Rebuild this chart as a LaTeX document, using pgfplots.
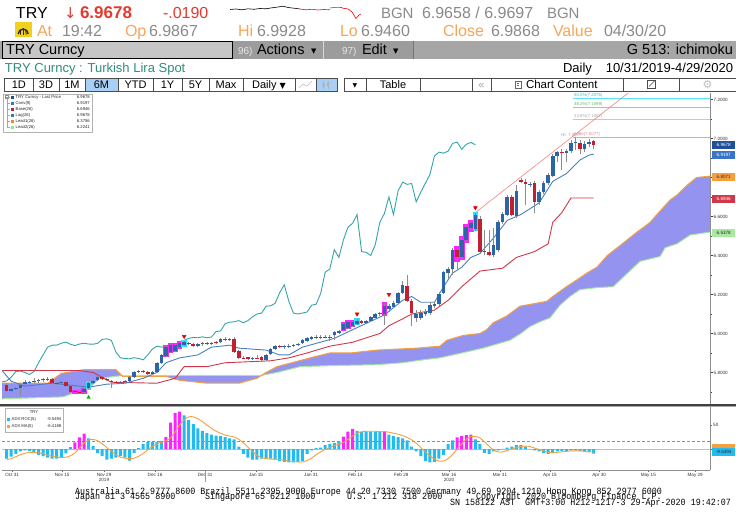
\documentclass[border=0pt]{standalone}
\usepackage{fontspec}
\setmainfont{Liberation Sans}
\newfontfamily\mono{Liberation Mono}[FakeStretch=0.88]
\newfontfamily\dejavu{DejaVu Sans}
\usepackage{pgfplots}
\usepackage{pgfplotstable}
\pgfplotsset{compat=1.18}
\newcommand\fs[1]{\fontsize{#1}{#1}\selectfont}

\definecolor{upc}{HTML}{2C64A8}
\definecolor{dnc}{HTML}{C21F30}
\definecolor{wickc}{HTML}{8C8C8C}
\definecolor{hlpink}{HTML}{FF22FF}
\definecolor{hlcyan}{HTML}{33DDFF}
\definecolor{convc}{HTML}{4A80C4}
\definecolor{basec}{HTML}{D0384A}
\definecolor{lagc}{HTML}{35A5AA}
\definecolor{lead1c}{HTML}{F5A040}
\definecolor{lead2c}{HTML}{A8E8A0}
\definecolor{cloudc}{HTML}{9494F0}
\definecolor{trendc}{HTML}{F39090}
\definecolor{fibcyan}{HTML}{55E5F5}
\definecolor{fibgreen}{HTML}{80E080}
\definecolor{fibgray}{HTML}{C8C8C8}
\definecolor{fibpink}{HTML}{FF9A9A}
\definecolor{roccyan}{HTML}{22BBF0}
\definecolor{rocpink}{HTML}{FF22FF}
\definecolor{maorange}{HTML}{F5A040}
\definecolor{hdrred}{HTML}{E43A30}
\definecolor{hdrgray}{HTML}{8A8A8A}
\definecolor{hdrorange}{HTML}{F5A658}
\definecolor{titleteal}{HTML}{2F8F7A}
\definecolor{lastc}{HTML}{1F4E9A}
\definecolor{convsq}{HTML}{3A74C8}
\definecolor{basesq}{HTML}{C21F3A}
\definecolor{lagsq}{HTML}{1C8A8F}
\definecolor{lead1sq}{HTML}{F28A1E}
\definecolor{lead2sq}{HTML}{8EE68E}
\definecolor{btnblue}{HTML}{A8CFF5}
\definecolor{bandgray}{HTML}{A6A6A6}
\definecolor{bandgray2}{HTML}{9C9C9C}
\definecolor{boxgray}{HTML}{C6C6C6}
\definecolor{iconyel}{HTML}{F0D020}

% ---------- candles (index = trading day) ----------
\pgfplotstableread{
i o h l c
1 5.705 5.722 5.698 5.716
2 5.718 5.728 5.712 5.722
3 5.720 5.748 5.680 5.736
4 5.742 5.760 5.735 5.750
5 5.750 5.758 5.740 5.753
6 5.751 5.770 5.745 5.755
7 5.754 5.768 5.748 5.761
8 5.759 5.770 5.752 5.766
9 5.764 5.775 5.758 5.768
11 5.745 5.752 5.735 5.748
12 5.748 5.756 5.740 5.752
17 5.699 5.718 5.694 5.713
18 5.722 5.752 5.715 5.746
19 5.745 5.762 5.740 5.756
20 5.760 5.782 5.755 5.776
25 5.747 5.756 5.742 5.752
26 5.752 5.760 5.746 5.757
27 5.756 5.780 5.750 5.776
28 5.776 5.810 5.770 5.805
29 5.803 5.815 5.796 5.807
32 5.790 5.810 5.785 5.805
33 5.802 5.855 5.798 5.850
34 5.850 5.895 5.845 5.890
35 5.886 5.935 5.880 5.930
36 5.905 5.945 5.900 5.940
37 5.912 5.945 5.905 5.940
38 5.930 5.955 5.925 5.950
39 5.940 5.962 5.935 5.956
42 5.936 5.952 5.930 5.946
43 5.945 5.955 5.938 5.950
47 5.955 5.975 5.950 5.970
48 5.968 5.980 5.962 5.973
54 5.871 5.880 5.862 5.876
57 5.865 5.895 5.860 5.890
58 5.893 5.925 5.888 5.920
59 5.920 5.940 5.915 5.935
61 5.930 5.940 5.922 5.934
62 5.934 5.945 5.925 5.938
63 5.939 5.948 5.930 5.943
64 5.943 5.952 5.935 5.947
65 5.949 5.970 5.944 5.965
66 5.964 5.980 5.958 5.975
67 5.970 5.985 5.965 5.980
69 5.979 5.990 5.972 5.983
71 5.978 5.990 5.960 5.982
72 5.990 6.015 5.965 6.010
73 6.005 6.020 5.995 6.013
74 6.020 6.055 6.015 6.050
75 6.030 6.062 6.025 6.058
76 6.040 6.065 6.035 6.060
77 6.050 6.072 6.045 6.066
79 6.055 6.070 6.050 6.066
80 6.066 6.090 6.060 6.085
81 6.082 6.105 6.078 6.100
82 6.100 6.110 6.090 6.104
83 6.100 6.150 6.045 6.140
84 6.125 6.150 6.110 6.142
85 6.135 6.165 6.130 6.155
86 6.155 6.215 6.150 6.210
87 6.210 6.270 6.205 6.250
90 6.080 6.120 6.060 6.100
91 6.082 6.120 6.070 6.105
92 6.100 6.125 6.090 6.110
93 6.105 6.160 6.095 6.145
94 6.140 6.160 6.130 6.150
95 6.150 6.215 6.140 6.205
96 6.210 6.320 6.200 6.315
97 6.310 6.340 6.280 6.330
98 6.330 6.440 6.300 6.430
100 6.390 6.490 6.380 6.480
101 6.480 6.550 6.470 6.545
102 6.540 6.570 6.530 6.565
103 6.535 6.620 6.525 6.610
107 6.400 6.540 6.390 6.455
108 6.430 6.580 6.420 6.570
109 6.570 6.625 6.560 6.615
110 6.610 6.710 6.600 6.700
112 6.600 6.760 6.590 6.730
115 6.765 6.775 6.750 6.769
117 6.675 6.735 6.660 6.725
118 6.725 6.780 6.715 6.770
119 6.770 6.825 6.760 6.815
120 6.810 6.920 6.800 6.910
121 6.910 6.935 6.880 6.930
123 6.925 6.945 6.880 6.935
124 6.935 6.990 6.925 6.975
125 6.975 7.008 6.940 6.981
127 6.945 6.985 6.930 6.970
128 6.970 6.995 6.955 6.980
}\upc

\pgfplotstableread{
i o h l c
0 5.735 5.745 5.700 5.705
10 5.768 5.772 5.740 5.745
13 5.750 5.755 5.725 5.730
14 5.732 5.738 5.695 5.702
15 5.706 5.715 5.695 5.701
16 5.701 5.710 5.692 5.697
21 5.777 5.782 5.760 5.765
22 5.765 5.770 5.755 5.760
23 5.757 5.762 5.722 5.754
24 5.752 5.758 5.740 5.748
30 5.806 5.812 5.795 5.800
31 5.800 5.806 5.785 5.790
40 5.952 5.958 5.940 5.945
41 5.945 5.950 5.930 5.938
44 5.950 5.958 5.940 5.946
45 5.950 5.956 5.940 5.945
46 5.956 5.962 5.945 5.950
49 5.972 5.978 5.960 5.965
50 5.972 5.980 5.900 5.905
51 5.910 5.915 5.870 5.875
52 5.876 5.885 5.868 5.872
53 5.877 5.882 5.865 5.870
55 5.876 5.890 5.868 5.872
56 5.880 5.886 5.855 5.865
60 5.936 5.942 5.925 5.930
68 5.982 5.990 5.970 5.978
70 5.983 5.992 5.975 5.978
78 6.062 6.068 6.050 6.055
88 6.245 6.300 6.160 6.165
89 6.165 6.175 6.040 6.105
99 6.430 6.440 6.330 6.390
104 6.585 6.600 6.410 6.420
105 6.422 6.530 6.400 6.416
106 6.416 6.530 6.395 6.400
111 6.700 6.710 6.600 6.610
113 6.786 6.795 6.770 6.776
114 6.775 6.790 6.660 6.765
116 6.770 6.780 6.620 6.675
122 6.932 6.945 6.840 6.925
126 6.978 6.990 6.920 6.945
129 6.9867 6.9928 6.9460 6.9678
}\dnc

\pgfplotstableread{
i lo hi
15 5.690 5.712
16 5.688 5.708
17 5.690 5.722
35 5.880 5.940
36 5.898 5.950
37 5.905 5.950
38 5.922 5.960
74 6.012 6.058
75 6.022 6.068
76 6.032 6.070
83 6.090 6.160
99 6.365 6.450
100 6.375 6.500
101 6.465 6.560
102 6.520 6.580
}\hlp

\pgfplotstableread{
i lo hi
18 5.712 5.758
39 5.930 5.968
77 6.042 6.078
103 6.525 6.625
}\hlc

% ---------- ichimoku lines ----------
\pgfplotstableread{
i v
-1.03 5.81
1 5.755
4 5.73
10 5.745
14 5.735
18 5.725
22 5.74
26 5.745
30 5.77
33 5.80
35 5.85
38 5.875
42 5.89
45 5.93
49 5.94
51 5.925
57 5.915
60 5.89
62 5.89
65 5.93
72 5.975
77 6.03
83 6.095
87 6.17
89 6.19
91 6.16
94 6.16
96 6.24
98 6.31
100 6.34
102 6.39
104 6.41
107 6.49
110 6.58
113 6.61
117 6.67
120 6.78
123 6.82
126 6.89
128 6.915
129 6.9197
}\conv

\pgfplotstableread{
i v
-1.03 5.81
16 5.81
19 5.80
23 5.75
33 5.745
37 5.77
39 5.83
44 5.83
48 5.85
58 5.86
62 5.875
66 5.90
71 5.935
76 5.955
82 6.0
84 6.04
87 6.075
89 6.10
94 6.12
97 6.17
100 6.24
104 6.32
109 6.335
112 6.39
116 6.42
119 6.46
120 6.57
122 6.62
124 6.695
129 6.6946
}\base

\pgfplotstableread{
i v
-1 5.752
0 5.757
1 5.776
2 5.805
3 5.807
4 5.800
5 5.790
6 5.805
7 5.850
8 5.890
9 5.930
10 5.940
11 5.940
12 5.950
13 5.956
14 5.945
15 5.938
16 5.946
17 5.950
18 5.946
19 5.945
20 5.950
21 5.970
22 5.973
23 5.965
24 5.905
25 5.875
26 5.872
27 5.870
28 5.876
29 5.872
30 5.865
31 5.890
32 5.920
33 5.935
34 5.930
35 5.934
36 5.938
37 5.943
38 5.947
39 5.965
40 5.975
41 5.980
42 5.978
43 5.983
44 5.978
45 5.982
46 6.010
47 6.013
48 6.050
49 6.058
50 6.060
51 6.066
52 6.055
53 6.066
54 6.085
55 6.100
56 6.104
57 6.140
58 6.142
59 6.155
60 6.210
61 6.250
62 6.165
63 6.105
64 6.100
65 6.105
66 6.110
67 6.145
68 6.150
69 6.205
70 6.315
71 6.330
72 6.430
73 6.390
74 6.480
75 6.545
76 6.565
77 6.610
78 6.420
79 6.416
80 6.400
81 6.455
82 6.570
83 6.615
84 6.700
85 6.610
86 6.730
87 6.776
88 6.765
89 6.769
90 6.675
91 6.725
92 6.770
93 6.815
94 6.910
95 6.930
96 6.925
97 6.935
98 6.975
99 6.981
100 6.945
101 6.970
102 6.980
103 6.9678
}\lag

\pgfplotstableread{
i v
-1.03 5.745
9 5.745
12 5.795
17 5.815
24 5.815
25.5 5.78
35 5.78
38 5.76
44 5.745
51 5.745
55 5.77
57 5.80
59.4 5.83
66.7 5.875
71 5.90
75.5 5.90
81.4 5.915
90.2 5.925
95.2 5.935
96.7 5.965
100.3 5.99
104 6.0
105.5 6.02
106.9 6.055
109.9 6.09
112.8 6.14
118.7 6.165
120 6.19
123 6.24
125.3 6.275
127.5 6.31
129.7 6.34
132 6.40
135 6.455
138.5 6.52
141.4 6.57
142.5 6.60
145.8 6.685
147.3 6.71
149.5 6.76
151.6 6.80
154.56 6.807
}\leadone

\pgfplotstableread{
i v
-1.03 5.665
12.4 5.675
18.3 5.725
20.5 5.77
24.5 5.782
35 5.785
56 5.785
59.4 5.80
64.5 5.83
71 5.835
81.4 5.84
87 5.85
91.5 5.865
95.2 5.875
100 5.90
104.7 5.925
110.6 5.965
113 6.0
115 6.035
117.2 6.06
119.4 6.08
121.6 6.145
123.8 6.19
126 6.225
129.7 6.235
133.3 6.24
136 6.30
139.2 6.37
143.6 6.395
144.7 6.44
147.3 6.46
150.2 6.505
154.56 6.52
}\leadtwo

% cloud outline: Lead1 forward, Lead2 backward
\pgfplotstableread{
i v
-1.03 5.745
9 5.745
12 5.795
17 5.815
24 5.815
25.5 5.78
35 5.78
38 5.76
44 5.745
51 5.745
55 5.77
57 5.80
59.4 5.83
66.7 5.875
71 5.90
75.5 5.90
81.4 5.915
90.2 5.925
95.2 5.935
96.7 5.965
100.3 5.99
104 6.0
105.5 6.02
106.9 6.055
109.9 6.09
112.8 6.14
118.7 6.165
120 6.19
123 6.24
125.3 6.275
127.5 6.31
129.7 6.34
132 6.40
135 6.455
138.5 6.52
141.4 6.57
142.5 6.60
145.8 6.685
147.3 6.71
149.5 6.76
151.6 6.80
154.56 6.807
154.56 6.52
150.2 6.505
147.3 6.46
144.7 6.44
143.6 6.395
139.2 6.37
136 6.30
133.3 6.24
129.7 6.235
126 6.225
123.8 6.19
121.6 6.145
119.4 6.08
117.2 6.06
115 6.035
113 6.0
110.6 5.965
104.7 5.925
100 5.90
95.2 5.875
91.5 5.865
87 5.85
81.4 5.84
71 5.835
64.5 5.83
59.4 5.80
56 5.785
35 5.785
24.5 5.782
20.5 5.77
18.3 5.725
12.4 5.675
-1.03 5.665
}\cloud

% ---------- ADX ROC(5) and MA(5) ----------
\pgfplotstableread{
i v
0 -20
1 -16
2 -10
3 -5
4 -3
5 -4
6 -8
7 -12
8 -15
9 -18
10 -20
11 -20
12 -17
13 -9
14 4
18 22
19 6
20 -8
21 -15
22 -22
23 -20
24 -18
25 -15
26 -18
27 -24
28 -8
29 2
30 10
31 15
32 15
33 15
34 17
39 70
40 60
41 52
42 43
43 38
44 33
45 30
46 28
47 27
48 25
49 22
50 20
51 5
52 -10
53 -18
54 -22
55 -22
56 -20
57 -20
58 -20
59 -22
60 -25
61 -27
62 -28
63 -28
64 -27
65 -25
66 -10
67 -3
68 2
69 3
70 8
71 10
72 12
73 16
77 38
78 35
79 37
80 36
81 36
82 37
84 30
85 27
86 25
87 22
88 18
89 5
90 -5
91 -15
92 -25
93 -28
94 -27
95 -20
96 -12
97 10
98 18
103 20
104 10
105 -8
106 -10
107 -5
108 -3
109 0.5
110 3
111 5
112 8
113 8
114 5
115 0.5
116 -3
117 -5
118 -8
119 -10
120 -8
121 -5
122 -4
123 -4
124 -3
125 -3
126 -4
127 -5
128 -6
129 -9.5494
}\roc

\pgfplotstableread{
i v
15 14
16 24
17 32
35 25
36 55
37 75
38 78
74 26
75 36
76 42
83 37
99 24
100 27
101 29
102 30
}\rocp

\pgfplotstableread{
i v
0 -22
1 -20
2 -16
3 -12
4 -9
5 -7
6 -7
7 -8
8 -10
9 -13
10 -15
11 -17
12 -18
13 -17
14 -14
15 -8
16 2
17 12
18 19
19 20
20 17
21 11
22 3
23 -5
24 -12
25 -17
26 -19
27 -20
28 -19
29 -15
30 -9
31 -2
32 5
33 11
34 14
35 17
36 23
37 35
38 50
39 61
40 67
41 67
42 63
43 57
44 50
45 43
46 37
47 33
48 29
49 27
50 25
51 20
52 13
53 4
54 -5
55 -13
56 -18
57 -20
58 -21
59 -21
60 -22
61 -23
62 -25
63 -26
64 -27
65 -27
66 -24
67 -19
68 -12
69 -6
70 -1
71 3
72 7
73 10
74 14
75 20
76 27
77 33
78 36
79 37
80 37
81 37
82 36
83 36
84 35
85 33
86 31
87 28
88 24
89 19
90 12
91 3
92 -6
93 -14
94 -21
95 -25
96 -25
97 -20
98 -11
99 0
100 11
101 20
102 26
103 26
104 23
105 15
106 6
107 -2
108 -6
109 -6
110 -3
111 0
112 3
113 5
114 6
115 5
116 2
117 -1
118 -4
119 -7
120 -8
121 -7
122 -6
123 -5
124 -4
125 -4
126 -4
127 -5
128 -6
129 -6.4188
}\ma

\begin{document}
\begin{tikzpicture}[x=1pt,y=1pt,
  t/.style={anchor=base west,inner sep=0pt,outer sep=0pt},
  te/.style={anchor=base east,inner sep=0pt,outer sep=0pt},
  tc/.style={anchor=base,inner sep=0pt,outer sep=0pt}]
\path[use as bounding box] (0,0) rectangle (736,-530);
\fill[white] (0,0) rectangle (736,-530);

% ---------- header row 1 ----------
\node[t] at (16,-18.5) {\fs{16}TRY};
\node[t,text=hdrred] at (64,-18.5) {\fs{15}\dejavu ↓};
\node[t,text=hdrred] at (80,-18.5) {\fs{17}\bfseries 6.9678};
\node[t,text=hdrred] at (163,-18.5) {\fs{16}-.0190};
\draw[black,line width=0.6pt] (230,-9.5) -- (236,-9) -- (242,-9.8) -- (248,-8.8) -- (254,-9.3) -- (260,-8.5) -- (266,-8.8) -- (272,-7.8) -- (278,-7) -- (283,-6.2) -- (288,-7.5) -- (294,-8.2) -- (300,-9);
\draw[red,line width=0.6pt] (300,-9) -- (306,-9.8) -- (312,-9.3) -- (318,-10) -- (324,-9.5) -- (330,-9.8);
\draw[green!60!black,line width=0.6pt] (330,-8) -- (336,-7.3) -- (342,-7.5);
\draw[red,line width=0.6pt] (342,-8) -- (348,-9) -- (352,-12) -- (356,-18.5) -- (359,-15) -- (361,-14);
\node[t,text=hdrgray] at (381,-18.5) {\fs{15}BGN};
\node[t,text=hdrgray] at (422,-18.5) {\fs{16}6.9658 / 6.9697};
\node[t,text=hdrgray] at (547,-18.5) {\fs{15}BGN};

% ---------- header row 2 ----------
\fill[iconyel] (15,-21.8) rectangle (31.5,-37);
\draw[black!85,line width=1.3pt] (18.2,-34) arc (180:0:5);
\draw[black!85,line width=1pt] (23.2,-34.5) -- (23.2,-27.5);
\draw[black!85,line width=0.9pt] (20.3,-34.5) -- (20.6,-30) (26.1,-34.5) -- (25.8,-30);
\node[t,text=hdrorange] at (37,-36.3) {\fs{16}At};
\node[t,text=hdrgray] at (62,-36.3) {\fs{16}19:42};
\node[t,text=hdrorange] at (125,-36.3) {\fs{16}Op};
\node[t,text=hdrgray] at (149,-36.3) {\fs{16}6.9867};
\node[t,text=hdrorange] at (238,-36.3) {\fs{16}Hi};
\node[t,text=hdrgray] at (257,-36.3) {\fs{16}6.9928};
\node[t,text=hdrorange] at (340,-36.3) {\fs{16}Lo};
\node[t,text=hdrgray] at (361,-36.3) {\fs{16}6.9460};
\node[t,text=hdrorange] at (443,-36.3) {\fs{16}Close};
\node[t,text=hdrgray] at (491,-36.3) {\fs{16}6.9868};
\node[t,text=hdrorange] at (553,-36.3) {\fs{16}Value};
\node[t,text=hdrgray] at (604,-36.3) {\fs{16}04/30/20};

% ---------- header row 3 ----------
\fill[bandgray] (0,-41) rectangle (736,-59);
\fill[bandgray2] (233,-41) rectangle (413,-59);
\draw[black!15,line width=0.8pt] (323,-41) -- (323,-59);
\draw[black!55,line width=1.5pt] (413.5,-41) -- (413.5,-59);
\filldraw[fill=boxgray,draw=black,line width=1pt] (2.5,-41.5) rectangle (232.5,-58.5);
\node[t] at (6,-54.5) {\fs{14.5}TRY Curncy};
\node[t,text=black!10] at (238,-54.5) {\fs{10}96)};
\node[t] at (257,-54.5) {\fs{14.5}Actions};
\node[t] at (311,-53.5) {\fs{7}\dejavu ▼};
\node[t,text=black!10] at (342,-54.5) {\fs{10}97)};
\node[t] at (362,-54.5) {\fs{14.5}Edit};
\node[t] at (393,-53.5) {\fs{7}\dejavu ▼};
\node[te] at (733,-54.5) {\fs{14.5}G 513: ichimoku};

% ---------- header row 4 ----------
\node[t,text=titleteal] at (5,-72) {\fs{13}TRY Curncy : Turkish Lira Spot};
\node[t] at (563,-72) {\fs{13}Daily};
\node[te] at (733,-72) {\fs{13}10/31/2019-4/29/2020};

% ---------- toolbar ----------
\foreach \a/\b/\lab in {4.7/33/1D,33/59/3D,59/85/1M,118/153/YTD,153/182/1Y,182/209/5Y,209/243/Max,366/420/Table}{
  \draw[black!70,line width=0.6pt,fill=white] (\a,-78) rectangle (\b,-91);
  \node[tc] at ({(\a+\b)/2},-88.3) {\fs{11}\lab};
}
\draw[black!70,line width=0.6pt,fill=btnblue] (85,-78) rectangle (118,-91);
\node[tc] at (101.5,-88.3) {\fs{11}6M};
\draw[black!70,line width=0.6pt,fill=white] (243,-78) rectangle (295,-91);
\node[tc] at (269,-88.3) {\fs{11}Daily {\dejavu\fs{8}▼}};
\draw[black!70,line width=0.6pt,fill=white] (295,-78) rectangle (316,-91);
\draw[black!25,line width=0.6pt] (299,-88) -- (303,-84) -- (307,-86) -- (312,-81);
\draw[black!70,line width=0.6pt,fill=btnblue] (316,-78) rectangle (337,-91);
\draw[black!30,line width=0.5pt] (323.5,-80.5) -- (323.5,-89) (328,-81) -- (328,-88.5);
\fill[black!30] (322.5,-83) rectangle (324.5,-87) (327,-82.5) rectangle (329,-86);
\draw[black!70,line width=0.6pt,fill=white] (344,-78) rectangle (366,-91);
\node[tc] at (355,-87) {\fs{6}\dejavu ▼};
\draw[black!70,line width=0.6pt,fill=white] (420,-78) rectangle (472,-91);
\draw[black!70,line width=0.6pt,fill=white] (472,-78) rectangle (491,-91);
\node[tc,text=black!35] at (481.5,-88.3) {\fs{11}«};
\draw[black!70,line width=0.6pt,fill=white] (491,-78) rectangle (623,-91);
\draw[black!60,line width=0.5pt] (515,-81) rectangle (521,-88.5);
\draw[black!60,line width=0.5pt] (517,-83) -- (519,-83) (517,-85) -- (519,-85);
\node[t] at (526,-88.3) {\fs{11.5}Chart Content};
\draw[black!70,line width=0.6pt,fill=white] (623,-78) rectangle (679,-91);
\draw[black!70,line width=0.6pt] (647,-80.5) rectangle (655,-88.5);
\draw[black!70,line width=0.6pt] (649,-86.5) -- (655,-80.5);
\draw[black!70,line width=0.6pt,fill=white] (679,-78) rectangle (736,-91);
\node[tc,text=black!25] at (707.5,-88.6) {\fs{11}\dejavu ⚙};

% ---------- main price panel ----------
\begin{axis}[at={(2pt,-405pt)}, anchor=south west,
  width=708pt, height=312pt, scale only axis,
  xmin=-1.03, xmax=154.56, ymin=5.6333, ymax=7.2333,
  hide x axis, axis y line*=right,
  axis line style={draw=black!45, line width=0.6pt},
  ytick={5.8,6,6.2,6.4,6.6,6.8,7,7.2},
  yticklabels={5.8000,6.0000,6.2000,6.4000,6.6000,{},7.0000,7.2000},
  minor ytick={5.7,5.9,6.1,6.3,6.5,6.7,6.9,7.1},
  tick align=outside, major tick length=2.5pt, minor tick length=1.8pt,
  tick style={draw=black!75, line width=0.7pt},
  yticklabel style={font=\fs{4.6}, text=black!80, inner sep=1pt},
]
\addplot[fill=cloudc, draw=none, forget plot] table[x=i,y=v] {\cloud};
\addplot[lead2c, line width=1pt, forget plot] table[x=i,y=v] {\leadtwo};
\addplot[lead1c, line width=1pt, forget plot] table[x=i,y=v] {\leadone};
% fibonacci levels and trend line
\addplot[fibcyan, line width=0.8pt, forget plot] coordinates {(124.5,7.2076) (154.56,7.2076)};
\addplot[fibgreen, line width=0.8pt, forget plot] coordinates {(124.5,7.1599) (154.56,7.1599)};
\addplot[fibgray, line width=0.6pt, forget plot] coordinates {(124.5,7.1007) (154.56,7.1007)};
\addplot[fibpink, line width=0.8pt, forget plot] coordinates {(124.5,7.0077) (154.56,7.0077)};
\addplot[trendc, line width=0.7pt, forget plot] coordinates {(103,6.62) (137.5,7.25)};
% ichimoku lines
\addplot[lagc, line width=0.9pt, forget plot] table[x=i,y=v] {\lag};
\addplot[basec, line width=0.9pt, forget plot] table[x=i,y=v] {\base};
\addplot[convc, line width=0.9pt, forget plot] table[x=i,y=v] {\conv};
% highlights
\addplot[draw=none, mark=none, forget plot, error bars/.cd, y dir=plus, y explicit, error mark=none,
  error bar style={draw=hlpink, line width=5.6pt}]
  table[x=i, y=lo, y error plus expr={\thisrow{hi}-\thisrow{lo}}] {\hlp};
\addplot[draw=none, mark=none, forget plot, error bars/.cd, y dir=plus, y explicit, error mark=none,
  error bar style={draw=hlcyan, line width=5.6pt}]
  table[x=i, y=lo, y error plus expr={\thisrow{hi}-\thisrow{lo}}] {\hlc};
% wicks
\addplot[draw=none, mark=none, forget plot, error bars/.cd, y dir=plus, y explicit, error mark=none,
  error bar style={draw=wickc, line width=0.7pt}]
  table[x=i, y=l, y error plus expr={\thisrow{h}-\thisrow{l}}] {\upc};
\addplot[draw=none, mark=none, forget plot, error bars/.cd, y dir=plus, y explicit, error mark=none,
  error bar style={draw=wickc, line width=0.7pt}]
  table[x=i, y=l, y error plus expr={\thisrow{h}-\thisrow{l}}] {\dnc};
% bodies
\addplot[draw=none, mark=none, forget plot, error bars/.cd, y dir=plus, y explicit, error mark=none,
  error bar style={draw=upc, line width=3.6pt}]
  table[x=i, y=o, y error plus expr={\thisrow{c}-\thisrow{o}}] {\upc};
\addplot[draw=none, mark=none, forget plot, error bars/.cd, y dir=plus, y explicit, error mark=none,
  error bar style={draw=dnc, line width=3.6pt}]
  table[x=i, y=c, y error plus expr={\thisrow{o}-\thisrow{c}}] {\dnc};
% signal markers
\addplot[only marks, mark=triangle*, mark size=2.2pt, color=red!90!black, mark options={rotate=180}, forget plot]
  coordinates {(39,5.985) (77,6.10) (84,6.20) (103,6.645)};
\addplot[only marks, mark=triangle*, mark size=2pt, color=green!70!black, forget plot]
  coordinates {(18,5.672)};
% labels of the fibonacci levels
\node[anchor=south west, inner sep=0.3pt, text=fibcyan!80!black, font=\fs{4.3}] at (axis cs:124.6,7.2076) {50.0\%(7.2076)};
\node[anchor=south west, inner sep=0.3pt, text=fibgreen!80!black, font=\fs{4.3}] at (axis cs:124.6,7.1599) {38.2\%(7.1599)};
\node[anchor=south west, inner sep=0.3pt, text=black!35, font=\fs{4.3}] at (axis cs:124.6,7.1007) {23.6\%(7.1007)};
\node[anchor=south west, inner sep=0.3pt, text=convc!70, font=\fs{4.3}] at (axis cs:121.8,7.0077) {Hi: 7.0077};
\node[anchor=south west, inner sep=0.3pt, text=fibpink!90!black, font=\fs{4.3}] at (axis cs:124.6,7.0077) {0.0\%(7.0077)};
\end{axis}

% ---------- indicator panel ----------
\begin{axis}[at={(2pt,-470pt)}, anchor=south west,
  width=708pt, height=64pt, scale only axis,
  xmin=-1.03, xmax=154.56, ymin=-43.75, ymax=89.6,
  axis x line*=bottom, axis y line*=right,
  axis line style={draw=black!45, line width=0.6pt},
  xtick={1.2,12.2,21.4,32.6,43.6,54.8,66.9,76.6,86.7,97.2,108.4,119.4,130.2,141,151.3},
  xticklabels={Oct 31,Nov 15,Nov 29,Dec 16,Dec 31,Jan 15,Jan 31,Feb 14,Feb 28,Mar 16,Mar 31,Apr 15,Apr 30,May 15,May 29},
  ytick={0,50}, yticklabels={0,50},
  tick align=outside, major tick length=2pt,
  tick style={draw=black!60, line width=0.6pt},
  ticklabel style={font=\fs{4.6}, text=black!80, inner sep=1pt},
]
\addplot[black!25, line width=0.8pt, forget plot] coordinates {(-1.03,0) (154.56,0)};
\addplot[red!65, line width=0.7pt, dash pattern=on 3pt off 2pt, forget plot] coordinates {(-1.03,15) (154.56,15)};
\addplot[ybar, bar width=3pt, bar shift=0pt, fill=roccyan, draw=none, forget plot] table[x=i,y=v] {\roc};
\addplot[ybar, bar width=3pt, bar shift=0pt, fill=rocpink, draw=none, forget plot] table[x=i,y=v] {\rocp};
\addplot[maorange, line width=0.9pt, smooth, tension=0.5, forget plot] table[x=i,y=v] {\ma};
\end{axis}

% panel separator
\draw[black!75,line width=1.6pt] (0,-404.8) -- (736,-404.8);
\draw[black!35,line width=0.6pt] (0,-406.5) -- (736,-406.5);

% year labels
\node[tc,text=black!80] at (104,-481) {\fs{4.6}2019};
\node[tc,text=black!80] at (449,-481) {\fs{4.6}2020};
\draw[black!40,line width=0.5pt] (205,-471) -- (205,-482);

% ---------- right value tags ----------
\tikzset{tag/.style={anchor=west, inner sep=0pt, minimum width=23pt, minimum height=8pt, font=\fs{4.6}}}
\node[tag, fill=lastc, text=white] at (712,-145.3) {6.9678};
\node[tag, fill=convsq, text=white] at (712,-155) {6.9197};
\node[tag, fill=lead1c, text=black!80] at (712,-177) {6.8071};
\node[tag, fill=basec, text=white] at (712,-199) {6.6946};
\node[tag, fill=lead2c, text=black!85] at (712,-232.5) {6.5378};
\node[tag, fill=maorange, minimum height=5pt] at (712,-446.5) {};
\node[tag, fill=roccyan, text=black!85] at (712,-452) {-9.5494};

% ---------- main legend ----------
\draw[black!30, fill=white, line width=0.5pt] (3,-93.8) rectangle (92,-132.5);
\draw[black!45, line width=0.4pt] (5.5,-95.5) rectangle (8.5,-98.5);
\draw[black!45, line width=0.4pt] (6.2,-97) -- (7.8,-97);
\draw[black!35, line width=0.4pt] (7,-98.5) -- (7,-127.3);
\foreach \yy/\cc/\nm/\vv in {97.3/lastc/TRY Curncy - Last Price/6.9678, 103.3/convsq/Conv(9)/6.9197, 109.3/basesq/Base(26)/6.6946, 115.3/lagsq/Lag(26)/6.9678, 121.3/lead1sq/Lead1(26)/6.3756, 127.3/lead2sq/Lead2(26)/6.2241}{
  \draw[black!35, line width=0.4pt] (7,-\yy) -- (10,-\yy);
  \fill[\cc] (10.5,-\yy-1.8) rectangle (14,-\yy+1.8);
  \node[anchor=west, inner sep=0pt, text=black!85] at (15.5,-\yy) {\fs{4.2}\nm};
  \node[anchor=east, inner sep=0pt, text=black!85] at (90,-\yy) {\fs{4.2}\vv};
}

% ---------- indicator legend ----------
\draw[black!30, fill=white, line width=0.5pt] (5,-408.5) rectangle (63,-432);
\node[anchor=center, inner sep=0pt, text=black!85] at (34,-412.5) {\fs{4.2}TRY};
\fill[roccyan] (7,-417.6) rectangle (10.2,-420.8);
\node[anchor=west, inner sep=0pt, text=black!85] at (11.5,-419.2) {\fs{4.2}ADX ROC(5)};
\node[anchor=east, inner sep=0pt, text=black!85] at (61.5,-419.2) {\fs{4.2}-9.5494};
\fill[maorange] (7,-424.6) rectangle (10.2,-427.8);
\node[anchor=west, inner sep=0pt, text=black!85] at (11.5,-426.2) {\fs{4.2}ADX MA(5)};
\node[anchor=east, inner sep=0pt, text=black!85] at (61.5,-426.2) {\fs{4.2}-6.4188};

% ---------- footer ----------
\node[t] at (75,-494) {\mono\fs{9.5}Australia 61 2 9777 8600 Brazil 5511 2395 9000 Europe 44 20 7330 7500 Germany 49 69 9204 1210 Hong Kong 852 2977 6000};
\node[t] at (75,-499.5) {\mono\fs{9.5}Japan 81 3 4565 8900};
\node[t] at (205,-499.5) {\mono\fs{9.5}Singapore 65 6212 1000};
\node[t] at (347,-499.5) {\mono\fs{9.5}U.S. 1 212 318 2000};
\node[t] at (476,-499.5) {\mono\fs{9.5}Copyright 2020 Bloomberg Finance L.P.};
\node[t] at (450,-505) {\mono\fs{9.5}SN 158122 AST\ \ GMT+3:00 H212-1217-3 29-Apr-2020 19:42:07};
\end{tikzpicture}
\end{document}
